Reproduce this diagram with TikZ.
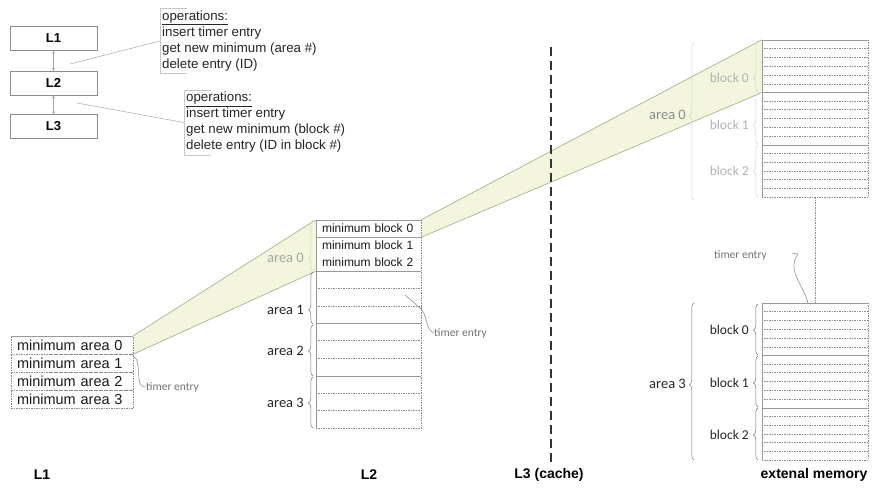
\documentclass[tikz,border=0pt]{standalone}
\usepackage{fontspec}
\setmainfont{Liberation Sans}
\newfontfamily\carl{Carlito}
\usetikzlibrary{decorations.pathreplacing,arrows.meta,calc,backgrounds}
\definecolor{bandfill}{RGB}{243,246,220}
\definecolor{bandline}{RGB}{165,170,135}
\tikzset{
 lbox/.style={draw=black!45, fill=white, minimum width=87, minimum height=24, inner sep=0, font=\fontsize{13}{15}\selectfont\bfseries},
 garrow/.style={draw=black!35, line width=0.5, {Stealth[length=3pt,width=3pt]}-{Stealth[length=3pt,width=3pt]}},
 callout/.style={draw=black!30, line width=0.6},
 opbox/.style={font=\fontsize{13.3}{16}\selectfont, align=left, inner sep=2, text=black!85, anchor=west},
 bracket/.style={draw=black!22, line width=0.6},
 l1cell/.style={draw=black!45, dash pattern=on 1.5pt off 1pt, text width=110, align=left, inner xsep=6, inner ysep=0, minimum height=18, font=\fontsize{14.5}{15}\selectfont, text=black!90},
 mbcell/.style={text width=93, align=left, inner xsep=6, inner ysep=0, minimum height=17, font=\fontsize{12}{13}\selectfont, text=black!90},
 areacell/.style={minimum width=105, minimum height=52.33, inner sep=0},
 extcell/.style={minimum width=106, minimum height=52.33, inner sep=0},
 tsolid/.style={draw=black!40, line width=0.6},
 tdash/.style={draw=black!45, line width=0.5, dash pattern=on 1.5pt off 1pt},
 brc/.style={decorate, decoration={brace, amplitude=4.5pt, aspect=#1}, draw=black!55, line width=0.5},
 lbrc/.style={decorate, decoration={brace, amplitude=4.5pt, aspect=#1}, draw=black!18, line width=0.5},
 arealbl/.style={font=\carl\fontsize{14.5}{15}\selectfont, anchor=east, inner sep=0, text=black!85},
 blklbl/.style={font=\carl\fontsize{13.5}{14}\selectfont, anchor=east, inner sep=0, text=black!85},
 timerlbl/.style={font=\carl\fontsize{11.5}{12}\selectfont, inner sep=0, text=black!55},
 tline/.style={draw=black!50, line width=0.5},
 botlbl/.style={font=\fontsize{14}{15}\selectfont\bfseries, inner sep=0},
}
\begin{document}
\begin{tikzpicture}[x=1pt,y=-1pt]
\useasboundingbox (0,0) rectangle (872,491);

% top-left hierarchy
\node[lbox] (L1) at (53.5,38.5) {L1};
\node[lbox] (L2) at (53.5,83) {L2};
\node[lbox] (L3) at (53.5,126.5) {L3};
\draw[garrow] (L1) -- (L2);
\draw[garrow] (L2) -- (L3);

\node[opbox] (op1) at (160,41) {\underline{operations:}\\insert timer entry\\get new minimum (area \#)\\delete entry (ID)};
\node[opbox] (op2) at (184,122.5) {\underline{operations:}\\insert timer entry\\get new minimum (block \#)\\delete entry (ID in block \#)};
\draw[bracket] ([xshift=27]op1.north west) -- (op1.north west) -- (op1.south west) -- ([xshift=27]op1.south west);
\draw[bracket] ([xshift=27]op2.north west) -- (op2.north west) -- (op2.south west) -- ([xshift=27]op2.south west);
\coordinate (c1) at (70,64);
\coordinate (c2) at (77,103);
\draw[callout] (c1) -- (op1.west);
\draw[callout] (c2) -- (op2.west);

% L1 table
\node[l1cell] (a0) at (72,345) {minimum area 0};
\node[l1cell] (a1) at (72,363) {minimum area 1};
\node[l1cell] (a2) at (72,381) {minimum area 2};
\node[l1cell] (a3) at (72,399) {minimum area 3};
\draw[tsolid] (a0.north west) -- (a0.north east);
\node[timerlbl, anchor=west] (te1) at (146,387) {timer entry};
\draw[tline] (134,357) .. controls (139,359) and (138,370) .. (139,379) .. controls (140,386) and (142,387) .. (te1.west);

% L2 table
\node[mbcell] (mb0) at (368.5,228.5) {minimum block 0};
\node[mbcell] (mb1) at (368.5,245.5) {minimum block 1};
\node[mbcell] (mb2) at (368.5,262.5) {minimum block 2};
\node[areacell] (ar1) at (368.5,297.17) {};
\node[areacell] (ar2) at (368.5,349.5) {};
\node[areacell] (ar3) at (368.5,401.83) {};
\draw[tsolid] (mb0.north west) -- (mb0.north east);
\draw[tsolid] (mb0.south west) -- (mb0.south east);
\draw[tsolid] (mb2.south west) -- (mb2.south east);
\draw[tsolid] (ar1.south west) -- (ar1.south east);
\draw[tsolid] (ar2.south west) -- (ar2.south east);
\draw[tsolid] (mb0.north west) -- (ar3.south west);
\draw[tdash] (mb0.north east) -- (ar3.south east);
\draw[tdash] (ar3.south west) -- (ar3.south east);
\foreach \n in {ar1,ar2,ar3}{
  \foreach \k in {1,2}{
    \draw[tdash] ($(\n.north west)!\k/3!(\n.south west)$) -- ($(\n.north east)!\k/3!(\n.south east)$);
  }
}
\draw[lbrc=0.25] (313,271) -- (313,220);
\node[arealbl, text=black!35] at (304,258) {area 0};
\draw[brc=0.27] (313,324) -- (313,272);
\node[arealbl] at (304,310) {area 1};
\draw[brc=0.49] (313,376) -- (313,325);
\node[arealbl] at (304,351) {area 2};
\draw[brc=0.49] (313,428) -- (313,377);
\node[arealbl] at (304,403) {area 3};
\node[timerlbl, anchor=west] (te2) at (434,333) {timer entry};
\draw[tline] (405,295) -- (420,308) .. controls (428,315) and (425,330) .. (te2.west);

% external memory
\node[extcell] (u0) at (815,66.17) {};
\node[extcell] (u1) at (815,118.5) {};
\node[extcell] (u2) at (815,170.83) {};
\node[extcell] (d0) at (815,329.17) {};
\node[extcell] (d1) at (815,381.5) {};
\node[extcell] (d2) at (815,433.83) {};
\foreach \n in {u0,u1,u2,d0,d1,d2}{
  \foreach \k in {1,...,5}{
    \draw[tdash] ($(\n.north west)!\k/6!(\n.south west)$) -- ($(\n.north east)!\k/6!(\n.south east)$);
  }
}
\foreach \n in {u0,u1,d0,d1}{
  \draw[tsolid] (\n.south west) -- (\n.south east);
}
\draw[tsolid] (u0.north west) -- (u0.north east);
\draw[tsolid] (d0.north west) -- (d0.north east);
\draw[tsolid] (u0.north west) -- (u2.south west);
\draw[tsolid] (d0.north west) -- (d2.south west);
\draw[tdash] (u0.north east) -- (u2.south east);
\draw[tdash] (d0.north east) -- (d2.south east);
\draw[tdash] (u2.south west) -- (u2.south east);
\draw[tdash] (d2.south west) -- (d2.south east);
\draw[tdash] (u2.south) -- (d0.north);

\draw[lbrc=0.27] (758,92) -- (758,41);
\node[blklbl, text=black!30] at (749,78) {block 0};
\draw[lbrc=0.37] (758,144) -- (758,93);
\node[blklbl, text=black!30] at (749,125) {block 1};
\draw[lbrc=0.5] (758,197) -- (758,145);
\node[blklbl, text=black!30] at (749,171) {block 2};
\draw[lbrc=0.54] (694,200) -- (694,43);
\node[arealbl, text=black!45] at (686,115) {area 0};

\draw[brc=0.49] (758,355) -- (758,304);
\node[blklbl] at (749,330) {block 0};
\draw[brc=0.47] (758,407) -- (758,356);
\node[blklbl] at (749,383) {block 1};
\draw[brc=0.48] (758,460) -- (758,408);
\node[blklbl] at (749,435) {block 2};
\draw[brc=0.48] (694,460) -- (694,303);
\node[arealbl] at (686,384) {area 3};

\node[timerlbl, anchor=east] (te3) at (767,255) {timer entry};
\coordinate (s3) at (792,253);
\coordinate (e3) at (808,303);
\draw[tline] (s3) -- (798,254) .. controls (786,270) and (804,286) .. (e3);

% bands
\begin{scope}[on background layer]
\fill[white] (0,0) rectangle (872,491);
\fill[bandfill] (a0.north east) -- (mb0.north west) -- (mb2.south west) -- (a0.south east) -- cycle;
\draw[bandline, line width=0.6] (a0.north east) -- (mb0.north west);
\draw[bandline, line width=0.6] (a0.south east) -- (mb2.south west);
\fill[bandfill] (mb0.north east) -- (u0.north west) -- (u0.south west) -- (mb0.south east) -- cycle;
\draw[bandline, line width=0.6] (mb0.north east) -- (u0.north west);
\draw[bandline, line width=0.6] (mb0.south east) -- (u0.south west);
\end{scope}

% L3 divider
\coordinate (t3) at (551,47);
\coordinate (b3) at (551,462);
\draw[draw=black!80, line width=1.1, dash pattern=on 9pt off 5pt] (t3) -- (b3);

% bottom labels
\node[botlbl] (bl1) at (42,475) {L1};
\node[botlbl] (bl2) at (369,475) {L2};
\node[botlbl] (bl3) at (549,475) {L3 (cache)};
\node[botlbl] (bl4) at (814,475) {extenal memory};
\end{tikzpicture}
\end{document}
